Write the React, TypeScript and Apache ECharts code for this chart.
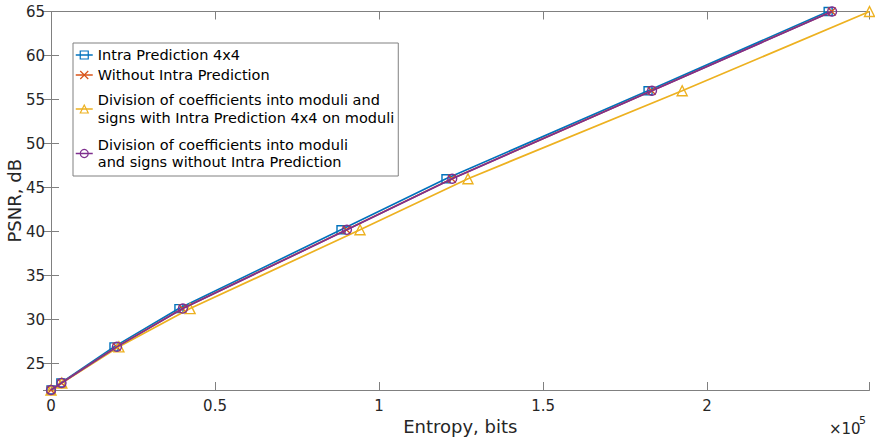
import React, { useEffect, useRef } from 'react';
import * as echarts from 'echarts';

const seriesNames = [
  'Intra Prediction 4x4',
  'Without Intra Prediction',
  'Division of coefficients into moduli and\nsigns with Intra Prediction 4x4 on moduli',
  'Division of coefficients into moduli\nand signs without Intra Prediction',
];
const seriesColors = ['#0072BD', '#D95319', '#EDB120', '#7E2F8E'];
const seriesSymbols = ['rect', 'path://M0,0L10,10M10,0L0,10', 'triangle', 'circle'];

const psnrValues = [22.0, 22.8, 26.9, 31.25, 40.2, 46.0, 56.0, 65.0];
const entropyIntra = [0, 3000, 19200, 39000, 88400, 120400, 182000, 236900];
const entropyNoIntra = [0, 3200, 20000, 40100, 90100, 122200, 183100, 238000];
const entropyDivIntra = [0, 3300, 20700, 42400, 94200, 127100, 192400, 249500];
const entropyDivNoIntra = [0, 3200, 20100, 40200, 90200, 122300, 183200, 238100];
const entropySets = [entropyIntra, entropyNoIntra, entropyDivIntra, entropyDivNoIntra];

const xMin = 0;
const xMax = 249500;
const xStep = 50000;
const yMin = 22;
const yMax = 65;
const yStep = 5;

const FONT = 'DejaVu Sans';
const AXIS_COLOR = '#808080';
const TEXT_COLOR = '#262626';

export default function App() {
  const ref = useRef<HTMLDivElement>(null);
  useEffect(() => {
    if (!ref.current) return;
    const chart = echarts.init(ref.current, undefined, { renderer: 'svg' });

    const series = seriesNames.map((name, i) => ({
      name,
      type: 'line',
      data: entropySets[i].map((x, j) => [x, psnrValues[j]]),
      symbol: seriesSymbols[i],
      symbolSize: i === 2 ? 10 : i === 3 ? 9 : 8,
      showSymbol: true,
      lineStyle: { color: seriesColors[i], width: 1.7 },
      itemStyle: { color: 'rgba(0,0,0,0)', borderColor: seriesColors[i], borderWidth: 1.4 },
      emphasis: { disabled: true },
      z: 2 + i,
    }));

    const legendPads = [
      { lineHeight: 18, padding: [1, 0, 1, 0] },
      { lineHeight: 18, padding: [1, 0, 1, 0] },
      { lineHeight: 18, padding: [6, 0, 6, 0] },
      { lineHeight: 17, padding: [3.5, 0, 3.5, 0] },
    ];

    const commonAxis = {
      axisLine: { show: true, lineStyle: { color: AXIS_COLOR, width: 1 } },
      axisTick: { show: true, inside: true, length: 8, lineStyle: { color: AXIS_COLOR } },
      splitLine: { show: false },
    };

    chart.setOption({
      animation: false,
      backgroundColor: '#fff',
      grid: {
        left: 51,
        right: 5.5,
        top: 11.5,
        bottom: 51,
        containLabel: false,
        outerBoundsMode: 'none',
      },
      legend: {
        show: true,
        orient: 'vertical',
        left: 73,
        top: 43,
        padding: [2, 4, 2, 2],
        itemGap: 0,
        itemWidth: 17,
        itemHeight: 10,
        borderColor: AXIS_COLOR,
        borderWidth: 1,
        backgroundColor: '#fff',
        selectedMode: false,
        itemStyle: { borderWidth: 1.2 },
        lineStyle: { width: 1.5 },
        textStyle: { fontFamily: FONT, fontSize: 14.5, color: '#000' },
        data: seriesNames.map((name, i) => ({ name, textStyle: legendPads[i] })),
      },
      xAxis: [
        {
          type: 'value',
          min: xMin,
          max: xMax,
          minInterval: xStep,
          maxInterval: xStep,
          position: 'bottom',
          name: 'Entropy, bits',
          nameLocation: 'middle',
          nameGap: 27,
          nameMoveOverlap: false,
          nameTextStyle: { fontFamily: FONT, fontSize: 18, color: TEXT_COLOR },
          ...commonAxis,
          axisLabel: {
            margin: 8,
            fontFamily: FONT,
            fontSize: 15,
            color: TEXT_COLOR,
            formatter: (v: number) => (Math.abs(v % xStep) < 1e-6 ? String(v / 100000) : ''),
          },
        },
        {
          type: 'value',
          min: xMin,
          max: xMax,
          minInterval: xStep,
          maxInterval: xStep,
          position: 'top',
          ...commonAxis,
          axisLabel: { show: false },
        },
      ],
      yAxis: [
        {
          type: 'value',
          min: yMin,
          max: yMax,
          minInterval: yStep,
          maxInterval: yStep,
          position: 'left',
          name: 'PSNR, dB',
          nameLocation: 'middle',
          nameGap: 28,
          nameMoveOverlap: false,
          nameTextStyle: { fontFamily: FONT, fontSize: 18, color: TEXT_COLOR },
          ...commonAxis,
          axisLabel: {
            margin: 6,
            fontFamily: FONT,
            fontSize: 15,
            color: TEXT_COLOR,
            formatter: (v: number) => (Math.abs(v % yStep) < 1e-6 ? String(v) : ''),
          },
        },
        {
          type: 'value',
          min: yMin,
          max: yMax,
          minInterval: yStep,
          maxInterval: yStep,
          position: 'right',
          ...commonAxis,
          axisLabel: { show: false },
        },
      ],
      graphic: [
        {
          type: 'text',
          left: 829,
          top: 421,
          style: { text: '×10', fontFamily: FONT, fontSize: 15, fill: TEXT_COLOR },
        },
        {
          type: 'text',
          left: 859,
          top: 415,
          style: { text: '5', fontFamily: FONT, fontSize: 11, fill: TEXT_COLOR },
        },
      ],
      series,
    });
    return () => chart.dispose();
  }, []);
  return (
    <div
      ref={ref}
      style={{ position: 'fixed', left: 0, top: 0, width: 875, height: 441, background: '#fff' }}
    />
  );
}
